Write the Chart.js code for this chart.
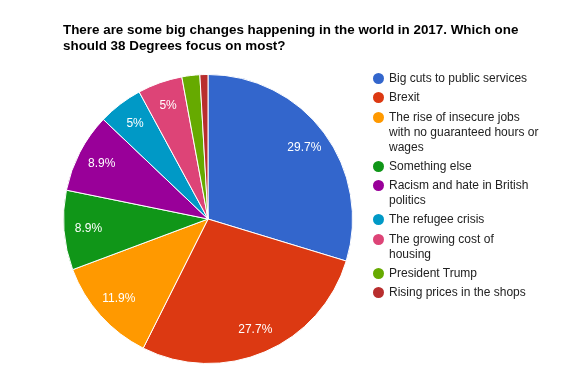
<!DOCTYPE html>
<html>
<head>
<meta charset="utf-8">
<script src="https://cdn.jsdelivr.net/npm/chart.js@4"></script>
<style>
  body { margin: 0; background: #fff; }
  #wrap { position: relative; width: 575px; height: 376px; overflow: hidden; }
  #title { position: absolute; left: 63px; top: 22px; font: bold 13.4px "Liberation Sans", Arial, sans-serif; line-height: 16px; color: #000; }
  #legend { position: absolute; left: 373px; top: 71px; font: 12px "Liberation Sans", Arial, sans-serif; color: #222; }
  .item { position: relative; padding-left: 16px; line-height: 15px; margin-bottom: 4.3px; }
  .dot { position: absolute; left: 0; top: 2px; width: 11px; height: 11px; border-radius: 50%; }
  canvas { position: absolute; left: 0; top: 0; }
</style>
</head>
<body>
<div id="wrap">
  <canvas id="grafica" width="575" height="376"></canvas>
  <div id="title"></div>
  <div id="legend"></div>
</div>
<script>
const titleLines = ['There are some big changes happening in the world in 2017. Which one', 'should 38 Degrees focus on most?'];
const labels = [
  ['Big cuts to public services'],
  ['Brexit'],
  ['The rise of insecure jobs', 'with no guaranteed hours or', 'wages'],
  ['Something else'],
  ['Racism and hate in British', 'politics'],
  ['The refugee crisis'],
  ['The growing cost of', 'housing'],
  ['President Trump'],
  ['Rising prices in the shops']
];
const shares = [29.7, 27.7, 11.9, 8.9, 8.9, 5, 5, 2.0, 0.9];
const colors = ['#3366cc', '#dc3912', '#ff9900', '#109618', '#990099', '#0099c6', '#dd4477', '#66aa00', '#b82e2e'];

document.getElementById('title').innerHTML = titleLines.join('<br>');

const legend = document.getElementById('legend');
labels.forEach((lines, i) => {
    const item = document.createElement('div');
    item.className = 'item';
    const dot = document.createElement('span');
    dot.className = 'dot';
    dot.style.background = colors[i];
    item.appendChild(dot);
    const txt = document.createElement('span');
    txt.innerHTML = lines.join('<br>');
    item.appendChild(txt);
    legend.appendChild(item);
});

// percentage labels inside the bigger slices
const sliceLabels = {
    id: 'sliceLabels',
    afterDatasetsDraw(chart) {
        const ctx = chart.ctx;
        const meta = chart.getDatasetMeta(0);
        ctx.save();
        ctx.fillStyle = '#fff';
        ctx.font = '12px "Liberation Sans", Arial, sans-serif';
        ctx.textAlign = 'center';
        ctx.textBaseline = 'middle';
        meta.data.forEach((arc, i) => {
            const v = shares[i];
            if (v < 4) return;
            const mid = (arc.startAngle + arc.endAngle) / 2;
            const r = arc.outerRadius * 0.83;
            ctx.fillText(v + '%', arc.x + Math.cos(mid) * r, arc.y + Math.sin(mid) * r);
        });
        ctx.restore();
    }
};

const ctx1 = document.getElementById('grafica').getContext('2d');
new Chart(ctx1, {
    type: 'pie',
    data: {
        labels: labels.map(l => l.join(' ')),
        datasets: [{
            data: shares,
            backgroundColor: colors,
            borderColor: '#fff',
            borderWidth: 1
        }]
    },
    options: {
        responsive: false,
        animation: false,
        layout: { padding: { left: 63, top: 74, right: 222, bottom: 12 } },
        plugins: {
            legend: { display: false },
            tooltip: { enabled: false }
        }
    },
    plugins: [sliceLabels]
});
</script>
</body>
</html>
